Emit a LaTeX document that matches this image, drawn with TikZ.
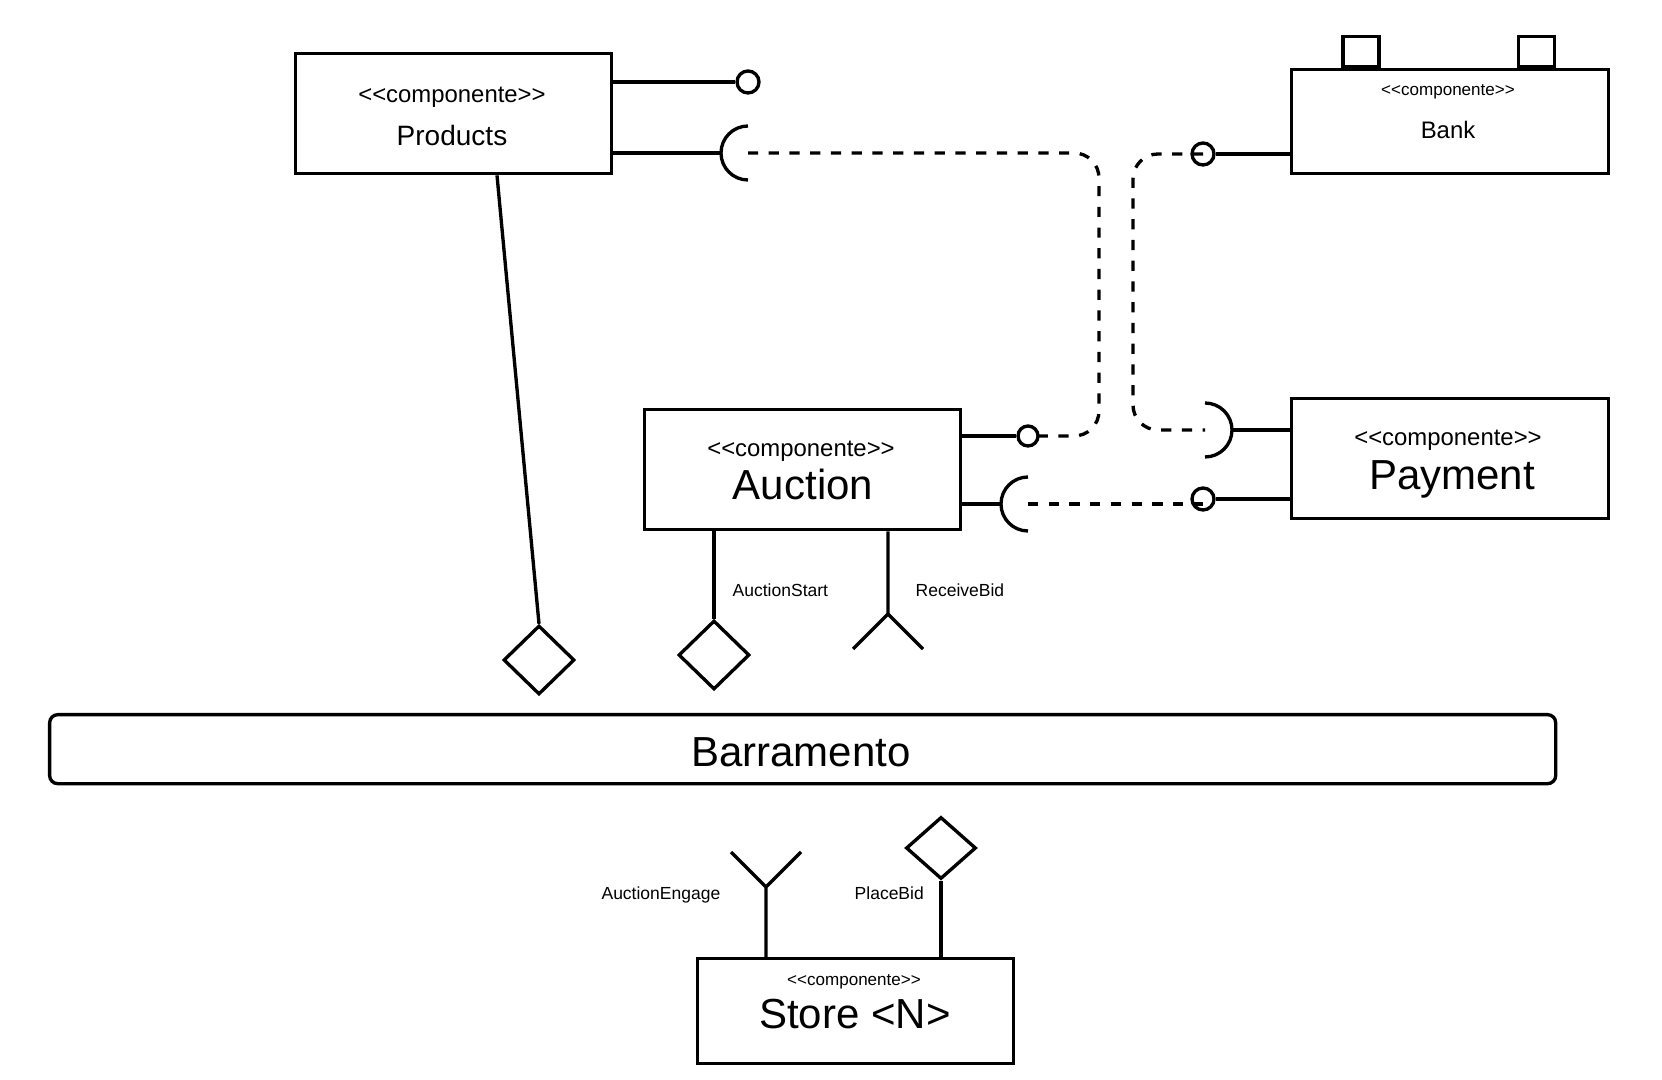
\documentclass[tikz,border=0pt]{standalone}
\usepackage{fontspec}
\setmainfont{Liberation Sans}
\usepackage{tikz}
\usetikzlibrary{positioning,calc,shapes.geometric}
\tikzset{
  wire/.style={line width=0.95pt,draw=black},
  dep/.style={wire,dash pattern=on 2.9pt off 3pt},
  comp/.style={draw,line width=0.95pt,fill=white,inner sep=0pt,anchor=north west},
  port/.style={draw,line width=0.95pt,fill=white,inner sep=0pt,minimum width=0.36cm,minimum height=0.30cm,anchor=south},
  ball/.style={circle,draw,line width=0.95pt,inner sep=0pt,minimum size=0.22cm},
  dia/.style={diamond,draw,line width=0.95pt,inner sep=0pt,minimum width=0.71cm,minimum height=0.69cm},
  stbig/.style={font=\fontsize{6.8}{8}\selectfont,inner sep=0pt,anchor=base},
  stsm/.style={font=\fontsize{4.85}{6}\selectfont,inner sep=0pt,anchor=base},
  nmbig/.style={font=\fontsize{11.95}{14}\selectfont,inner sep=0pt,anchor=base},
  lbl/.style={font=\fontsize{4.98}{6}\selectfont,inner sep=0pt},
  sockl/.pic={\draw[wire] (0,0.27) arc (90:270:0.27);
              \coordinate (-tip) at (-0.27,0); \coordinate (-c) at (0,0);},
  sockr/.pic={\draw[wire] (0,0.27) arc (90:-90:0.27);
              \coordinate (-tip) at (0.27,0); \coordinate (-c) at (0,0);},
}
\newcommand{\stereo}{<{}<componente>{}>}

\begin{document}
\begin{tikzpicture}
  \useasboundingbox (0,0) rectangle (16.62,-10.80);
  \node[comp,minimum width=3.16cm,minimum height=1.20cm] (prod) at (2.94,-0.52) {};
  \node[stbig] (prodst) at (4.52,-1.03) {\stereo};
  \node[stbig,font=\fontsize{7.97}{9}\selectfont] (prodnm) at (4.52,-1.46) {Products};
  \node[comp,minimum width=3.17cm,minimum height=1.04cm] (bank) at (12.90,-0.68) {};
  \node[port] (bankpa) at ([xshift=0.71cm]bank.north west) {};
  \node[port] (bankpb) at ([xshift=2.465cm]bank.north west) {};
  \node[stsm] (bankst) at (14.48,-0.96) {\stereo};
  \node[stbig] (banknm) at (14.48,-1.39) {Bank};
  \node[comp,minimum width=3.16cm,minimum height=1.20cm] (auc) at (6.43,-4.08) {};
  \node[stbig] (aucst) at (8.01,-4.565) {\stereo};
  \node[nmbig] (aucnm) at (8.03,-5.00) {Auction};
  \node[comp,minimum width=3.17cm,minimum height=1.20cm] (pay) at (12.90,-3.97) {};
  \node[stbig] (payst) at (14.48,-4.455) {\stereo};
  \node[nmbig] (paynm) at (14.52,-4.90) {Payment};
  \node[comp,minimum width=3.16cm,minimum height=1.05cm] (store) at (6.96,-9.57) {};
  \node[stsm] (storest) at (8.54,-9.85) {\stereo};
  \node[nmbig] (storenm) at (8.55,-10.29) {Store <N>};
  \node[comp,rounded corners=0.08cm,minimum width=15.06cm,minimum height=0.69cm] (bus) at (0.48,-7.13) {};
  \node[nmbig] (busnm) at (8.01,-7.66) {Barramento};

  \node[ball] (prodball) at (7.48,-0.82) {};
  \pic (prodsock) at (7.48,-1.53) {sockl};
  \node[ball] (bankball) at (12.03,-1.54) {};
  \node[ball,minimum size=0.20cm] (aucball) at (10.28,-4.36) {};
  \pic (aucsock) at (10.28,-5.04) {sockl};
  \pic (paysock) at (12.05,-4.30) {sockr};
  \node[ball] (payball) at (12.03,-4.99) {};
  \draw[wire] (prod.east |- prodball) -- (prodball);
  \draw[wire] (prod.east |- prodsock-tip) -- (prodsock-tip);
  \draw[wire] (bankball) -- (bank.west |- bankball);
  \draw[wire] (auc.east |- aucball) -- (aucball);
  \draw[wire] (auc.east |- aucsock-tip) -- (aucsock-tip);
  \draw[wire] (paysock-tip) -- (pay.west |- paysock-tip);
  \draw[wire] (payball) -- (pay.west |- payball);

  \coordinate (lanea) at (10.99,0);
  \coordinate (laneb) at (11.33,0);
  \draw[dep,rounded corners=0.25cm] (prodsock-c) -| (lanea |- aucball) -- (aucball.center);
  \draw[dep,rounded corners=0.25cm] (bankball.center) -| (laneb |- paysock-c) -- (paysock-c);
  \draw[dep] (aucsock-c) -- (aucsock-c -| payball);

  \node[dia] (proddia) at (5.39,-6.60) {};
  \draw[wire] ([xshift=2.03cm]prod.south west) -- (proddia.north);
  \node[dia] (startdia) at (7.14,-6.55) {};
  \draw[wire] (startdia.north |- auc.south) -- (startdia.north);
  \coordinate (recv) at (8.88,-6.14);
  \draw[wire] (recv |- auc.south) -- (recv) -- ++(-0.35,-0.35) (recv) -- ++(0.35,-0.35);
  \node[lbl,anchor=base west] (startlbl) at (7.32,-5.97) {AuctionStart};
  \node[lbl,anchor=base west] (recvlbl) at (9.15,-5.97) {ReceiveBid};
  \coordinate (engage) at (7.66,-8.87);
  \draw[wire] (engage |- store.north) -- (engage) -- ++(-0.35,0.35) (engage) -- ++(0.35,0.35);
  \node[dia,minimum width=0.70cm,minimum height=0.62cm] (placedia) at (9.41,-8.48) {};
  \draw[wire] (placedia.south |- store.north) -- (placedia.south);
  \node[lbl,anchor=base east] (engagelbl) at (7.21,-8.99) {AuctionEngage};
  \node[lbl,anchor=base west] (placelbl) at (8.54,-8.99) {PlaceBid};
\end{tikzpicture}
\end{document}
